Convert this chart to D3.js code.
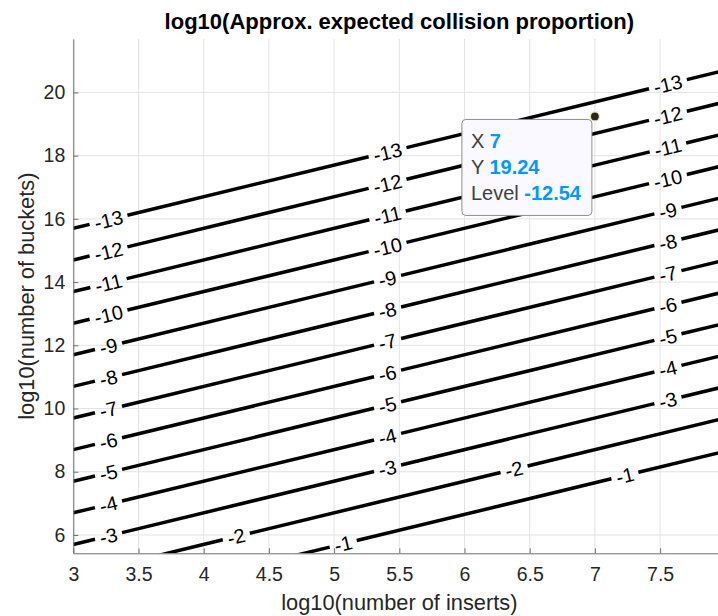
<!DOCTYPE html>
<html>
<head>
<meta charset="utf-8">
<script src="https://cdn.jsdelivr.net/npm/d3@7"></script>
<style>
  body { margin: 0; background: #fff; }
  svg { display: block; font-family: Arial, "Liberation Sans", sans-serif; }
</style>
</head>
<body>
<svg id="chart" width="718" height="616"></svg>
<script>
// contour levels and where each straight contour line meets x = 3 and x = 8
const levels    = [-13, -12, -11, -10, -9, -8, -7, -6, -5, -4, -3, -2, -1];
const yAtLeft   = [15.7, 14.7, 13.7, 12.7, 11.7, 10.7, 9.7, 8.7, 7.7, 6.7, 5.7, 4.7, 3.65];
const yAtRight  = [20.7, 19.7, 18.7, 17.7, 16.7, 15.7, 14.7, 13.7, 12.7, 11.7, 10.7, 9.7, 8.65];
// x positions of the inline labels on each contour
const labelXs = [
    [3.27, 5.41, 7.56], [3.27, 5.41, 7.56], [3.27, 5.41, 7.56], [3.27, 5.41, 7.56],
    [3.27, 5.41, 7.56], [3.27, 5.41, 7.56], [3.27, 5.41, 7.56], [3.27, 5.41, 7.56],
    [3.27, 5.41, 7.56], [3.27, 5.41, 7.56], [3.27, 5.41, 7.56],
    [4.25, 6.38], [5.07, 7.23]
];
const xTicks = [3, 3.5, 4, 4.5, 5, 5.5, 6, 6.5, 7, 7.5];
const yTicks = [6, 8, 10, 12, 14, 16, 18, 20];
const xDomain = [3, 8];
const yDomain = [5.42, 21.69];
// data tip
const tipX = 7, tipY = 19.24, tipLevel = -12.54;

const svg = d3.select('#chart');
const plotLeft = 73.3, plotRight = 725.3, plotTop = 39, plotBottom = 553.3;

const xScale = d3.scaleLinear().domain(xDomain).range([plotLeft, plotRight]);
const yScale = d3.scaleLinear().domain(yDomain).range([plotBottom, plotTop]);

svg.append('defs').append('clipPath').attr('id', 'plotClip')
    .append('rect')
    .attr('x', plotLeft).attr('y', plotTop)
    .attr('width', plotRight - plotLeft).attr('height', plotBottom - plotTop);

// grid
svg.append('g')
    .selectAll('line')
    .data(xTicks)
    .join('line')
    .attr('x1', d => xScale(d)).attr('x2', d => xScale(d))
    .attr('y1', plotTop).attr('y2', plotBottom)
    .attr('stroke', '#e3e3e3').attr('stroke-width', 1);
svg.append('g')
    .selectAll('line')
    .data(yTicks)
    .join('line')
    .attr('x1', plotLeft).attr('x2', plotRight)
    .attr('y1', d => yScale(d)).attr('y2', d => yScale(d))
    .attr('stroke', '#e3e3e3').attr('stroke-width', 1);

// contour lines, broken where labels sit
const plot = svg.append('g').attr('clip-path', 'url(#plotClip)');
const labelG = svg.append('g');
const line = d3.line().x(d => xScale(d[0])).y(d => yScale(d[1]));

levels.forEach((lev, i) => {
    const x0 = xDomain[0], x1 = xDomain[1];
    const y0 = yAtLeft[i], y1 = yAtRight[i];
    const yAt = x => y0 + (y1 - y0) * (x - x0) / (x1 - x0);
    const angle = Math.atan2(yScale(y1) - yScale(y0), xScale(x1) - xScale(x0)) * 180 / Math.PI;
    const cosA = Math.cos(angle * Math.PI / 180);

    const gaps = [];
    labelXs[i].forEach(lx => {
        const t = labelG.append('text')
            .attr('transform', `translate(${xScale(lx)},${yScale(yAt(lx))}) rotate(${angle})`)
            .attr('text-anchor', 'middle')
            .attr('dy', '0.36em')
            .attr('font-size', 20)
            .attr('fill', '#000')
            .text(lev);
        const half = (t.node().getComputedTextLength() / 2 + 5) * cosA;
        gaps.push([xScale.invert(xScale(lx) - half), xScale.invert(xScale(lx) + half)]);
    });
    gaps.sort((a, b) => a[0] - b[0]);

    let start = x0;
    const segs = [];
    gaps.forEach(g => { segs.push([start, g[0]]); start = g[1]; });
    segs.push([start, x1]);

    plot.selectAll(null)
        .data(segs)
        .join('path')
        .attr('d', s => line([[s[0], yAt(s[0])], [s[1], yAt(s[1])]]))
        .attr('fill', 'none')
        .attr('stroke', '#000')
        .attr('stroke-width', 3.5);
});

// axes
const axisColor = '#707070';
const xAxis = svg.append('g')
    .attr('transform', `translate(0,${plotBottom})`)
    .call(d3.axisBottom(xScale).tickValues(xTicks).tickSizeInner(-5).tickSizeOuter(0).tickPadding(14).tickFormat(d3.format('')));
const yAxis = svg.append('g')
    .attr('transform', `translate(${plotLeft},0)`)
    .call(d3.axisLeft(yScale).tickValues(yTicks).tickSizeInner(-5).tickSizeOuter(0).tickPadding(8));
[xAxis, yAxis].forEach(a => {
    a.select('.domain').attr('stroke', axisColor).attr('stroke-width', 1);
    a.selectAll('.tick line').attr('stroke', axisColor);
    a.selectAll('.tick text')
        .attr('font-size', 19.5)
        .attr('fill', '#262626')
        .attr('font-family', 'Arial, "Liberation Sans", sans-serif');
});

// title and axis labels
svg.append('text')
    .attr('x', (plotLeft + plotRight) / 2).attr('y', 29)
    .attr('text-anchor', 'middle')
    .attr('font-size', 22).attr('font-weight', 'bold')
    .attr('fill', '#000')
    .text('log10(Approx. expected collision proportion)');
svg.append('text')
    .attr('x', (plotLeft + plotRight) / 2).attr('y', 610)
    .attr('text-anchor', 'middle')
    .attr('font-size', 21.8)
    .attr('fill', '#262626')
    .text('log10(number of inserts)');
svg.append('text')
    .attr('transform', `translate(34,${(plotTop + plotBottom) / 2}) rotate(-90)`)
    .attr('text-anchor', 'middle')
    .attr('font-size', 21.8)
    .attr('fill', '#262626')
    .text('log10(number of buckets)');

// data tip
const px = xScale(tipX), py = yScale(tipY);
const tip = svg.append('g');
tip.append('rect')
    .attr('x', px - 133).attr('y', py + 3)
    .attr('width', 130).attr('height', 96)
    .attr('rx', 4)
    .attr('fill', '#f9f9ff')
    .attr('stroke', '#8f8f8f')
    .attr('stroke-width', 1);
const rows = [['X ', tipX], ['Y ', tipY], ['Level ', tipLevel]];
rows.forEach((r, k) => {
    const t = tip.append('text')
        .attr('x', px - 124).attr('y', py + 32 + k * 26)
        .attr('font-size', 20);
    t.append('tspan').attr('fill', '#404040').text(r[0]);
    t.append('tspan').attr('fill', '#0099ff').attr('font-weight', 'bold').text(r[1]);
});
tip.append('circle')
    .attr('cx', px).attr('cy', py).attr('r', 4.5)
    .attr('fill', '#262626')
    .attr('stroke', '#f3e9a8')
    .attr('stroke-width', 1.2);
</script>
</body>
</html>
